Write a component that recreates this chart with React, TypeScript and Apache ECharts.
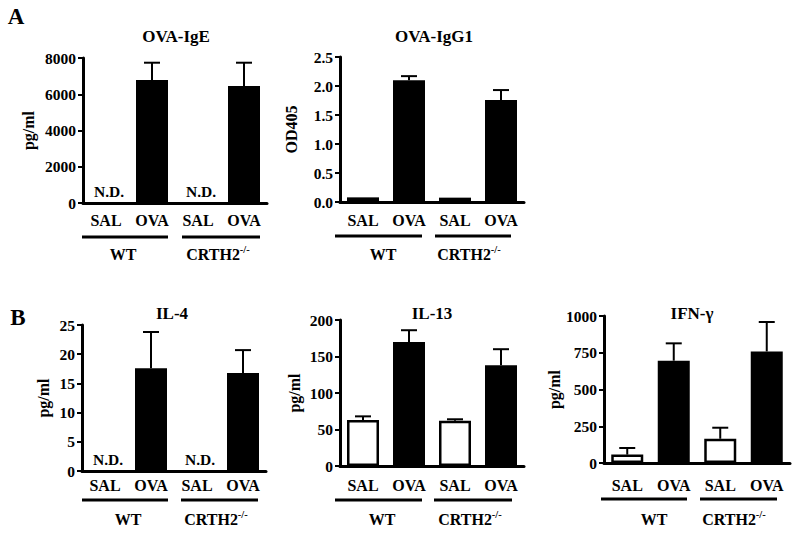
import React, { useEffect, useRef } from "react";
import * as echarts from "echarts";

const categories = ["SAL", "OVA", "SAL", "OVA"];
const genotypes = ["WT", "CRTH2"];
const knockoutSup = "-/-";

const igeMean = [null, 6780, null, 6460];
const igeSem = [null, 960, null, 1280];
const igg1Mean = [0.08, 2.1, 0.075, 1.76];
const igg1Sem = [0, 0.07, 0, 0.17];
const il4Mean = [null, 17.6, null, 16.8];
const il4Sem = [null, 6.2, null, 3.9];
const il13Mean = [63, 170, 62, 138];
const il13Sem = [5, 16, 2, 22];
const ifnMean = [57, 696, 165, 759];
const ifnSem = [45, 118, 75, 200];

const igeTicks = [0, 2000, 4000, 6000, 8000];
const igg1Ticks = [0, 0.5, 1.0, 1.5, 2.0, 2.5];
const il4Ticks = [0, 5, 10, 15, 20, 25];
const il13Ticks = [0, 50, 100, 150, 200];
const ifnTicks = [0, 250, 500, 750, 1000];

const FONT = "'Liberation Serif', 'Times New Roman', serif";

const panels = [
  {
    title: "OVA-IgE", yName: "pg/ml", mean: igeMean, sem: igeSem, ticks: igeTicks, decimals: 0,
    grid: { left: 83, top: 58, width: 184, height: 145 }, nameGap: 47, labelMargin: 10,
    titleX: 176, titleY: 36, lineY: 237, lines: [[82, 168], [182, 260]], labelY: 253, labelX: [123, 218],
  },
  {
    title: "OVA-IgG1", yName: "OD405", mean: igg1Mean, sem: igg1Sem, ticks: igg1Ticks, decimals: 1,
    grid: { left: 340, top: 57, width: 184, height: 145 }, nameGap: 41, labelMargin: 11,
    titleX: 434, titleY: 36, lineY: 236, lines: [[335, 422], [435, 511]], labelY: 253, labelX: [383, 469],
  },
  {
    title: "IL-4", yName: "pg/ml", mean: il4Mean, sem: il4Sem, ticks: il4Ticks, decimals: 0,
    grid: { left: 82, top: 325, width: 184, height: 146 }, nameGap: 31, labelMargin: 7,
    titleX: 172, titleY: 313, lineY: 500, lines: [[82, 168], [181, 258]], labelY: 518, labelX: [128, 216],
  },
  {
    title: "IL-13", yName: "pg/ml", mean: il13Mean, sem: il13Sem, ticks: il13Ticks, decimals: 0,
    grid: { left: 340, top: 320, width: 184, height: 146 }, nameGap: 38, labelMargin: 12,
    titleX: 432, titleY: 313, lineY: 500, lines: [[335, 422], [434, 512]], labelY: 518, labelX: [382, 470],
  },
  {
    title: "IFN-γ", yName: "pg/ml", mean: ifnMean, sem: ifnSem, ticks: ifnTicks, decimals: 0,
    grid: { left: 604, top: 316, width: 186, height: 147 }, nameGap: 37, labelMargin: 15,
    titleX: 692, titleY: 313, lineY: 499, lines: [[601, 687], [700, 777]], labelY: 518, labelX: [654, 734],
  },
];

export default function App() {
  const ref = useRef<HTMLDivElement>(null);
  useEffect(() => {
    if (!ref.current) return;
    const chart = echarts.init(ref.current, undefined, { renderer: "svg" });

    const grids: any[] = [];
    const xAxes: any[] = [];
    const yAxes: any[] = [];
    const series: any[] = [];
    const graphics: any[] = [];

    const boldText = (size: number) => ({ fontFamily: FONT, fontWeight: "bold", fontSize: size, color: "#000" });

    panels.forEach((p, i) => {
      grids.push({ ...p.grid, containLabel: false });
      xAxes.push({
        type: "category", gridIndex: i, data: categories,
        axisLine: { lineStyle: { color: "#000", width: 3 } },
        axisTick: { alignWithLabel: true, length: 4, lineStyle: { color: "#000", width: 2 } },
        axisLabel: { ...boldText(16), margin: p.labelMargin - 1, interval: 0 },
      });
      const step = p.ticks[1] - p.ticks[0];
      yAxes.push({
        type: "value", gridIndex: i, min: p.ticks[0], max: p.ticks[p.ticks.length - 1], interval: step,
        axisLine: { show: true, lineStyle: { color: "#000", width: 3 } },
        axisTick: { show: true, length: 5, lineStyle: { color: "#000", width: 2 } },
        splitLine: { show: false },
        axisLabel: { ...boldText(15.5), margin: 7, formatter: (v: number) => v.toFixed(p.decimals) },
        name: p.yName, nameLocation: "middle", nameGap: p.nameGap,
        nameTextStyle: { ...boldText(16) },
      });
      series.push({
        type: "bar", xAxisIndex: i, yAxisIndex: i, barWidth: 32,
        data: p.mean.map((m, j) =>
          m == null ? null : {
            value: m,
            itemStyle: j % 2 === 0
              ? { color: "#fff", borderColor: "#000", borderWidth: 2.5 }
              : { color: "#000" },
          }),
      });
      series.push({
        type: "custom", xAxisIndex: i, yAxisIndex: i, z: 5,
        encode: { x: 0, y: [1, 2] },
        data: p.mean.map((m, j) => (m == null || !p.sem[j] ? null : [j, m, m + (p.sem[j] as number)])).filter(Boolean),
        renderItem: (_params: any, api: any) => {
          const c = api.value(0);
          const p0 = api.coord([c, api.value(1)]);
          const p1 = api.coord([c, api.value(2)]);
          const st = { stroke: "#000", lineWidth: 2 };
          return {
            type: "group",
            children: [
              { type: "line", shape: { x1: p0[0], y1: p0[1], x2: p0[0], y2: p1[1] }, style: st },
              { type: "line", shape: { x1: p0[0] - 8, y1: p1[1], x2: p0[0] + 8, y2: p1[1] }, style: st },
            ],
          };
        },
      });
      const nd = p.mean.map((m, j) => (m == null ? [j, 0] : null)).filter(Boolean);
      if (nd.length) {
        series.push({
          type: "custom", xAxisIndex: i, yAxisIndex: i, z: 5,
          encode: { x: 0, y: 1 },
          data: nd,
          renderItem: (_params: any, api: any) => {
            const pt = api.coord([api.value(0), api.value(1)]);
            return {
              type: "text",
              x: pt[0] + 3, y: pt[1] - 4,
              style: {
                text: "N.D.", fontFamily: FONT, fontWeight: "bold", fontSize: 15.5, fill: "#000",
                align: "center", verticalAlign: "bottom",
              },
            };
          },
        });
      }
      graphics.push({
        type: "text", x: p.titleX, y: p.titleY,
        style: { text: p.title, fontFamily: FONT, fontWeight: "bold", fontSize: 17, fill: "#000", align: "center", verticalAlign: "middle" },
      });
      p.lines.forEach((ln, k) => {
        graphics.push({
          type: "line", shape: { x1: ln[0], y1: p.lineY, x2: ln[1], y2: p.lineY },
          style: { stroke: "#000", lineWidth: 3 },
        });
        graphics.push({
          type: "text", x: p.labelX[k], y: p.labelY,
          style: {
            text: k === 0 ? `{a|${genotypes[0]}}` : `{a|${genotypes[1]}}{s|${knockoutSup}}`,
            fill: "#000", align: "center", verticalAlign: "middle",
            rich: {
              a: { fontFamily: FONT, fontWeight: "bold", fontSize: 16, fill: "#000", lineHeight: 19, verticalAlign: "bottom" },
              s: { fontFamily: FONT, fontWeight: "bold", fontSize: 10.5, fill: "#000", lineHeight: 10, verticalAlign: "top" },
            },
          },
        });
      });
    });

    graphics.push({
      type: "text", x: 16, y: 16,
      style: { text: "A", fontFamily: FONT, fontWeight: "bold", fontSize: 23, fill: "#000", align: "center", verticalAlign: "middle" },
    });
    graphics.push({
      type: "text", x: 18, y: 317,
      style: { text: "B", fontFamily: FONT, fontWeight: "bold", fontSize: 23, fill: "#000", align: "center", verticalAlign: "middle" },
    });

    chart.setOption({
      animation: false,
      backgroundColor: "#fff",
      grid: grids,
      xAxis: xAxes,
      yAxis: yAxes,
      series,
      graphic: graphics,
    });
    return () => chart.dispose();
  }, []);
  return (
    <div
      ref={ref}
      style={{ position: "fixed", left: 0, top: 0, width: 800, height: 536, background: "#fff" }}
    />
  );
}
